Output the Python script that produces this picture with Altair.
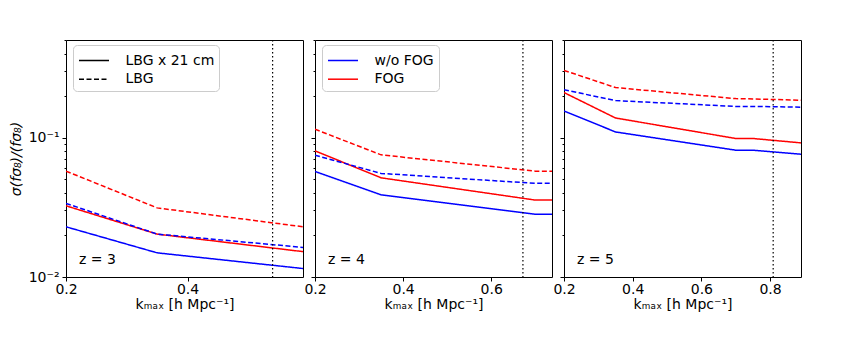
import altair as alt
import pandas as pd

# ---- data ----
redshifts = [3, 4, 5]
kmax = {
    3: [0.2, 0.35, 0.59],
    4: [0.2, 0.35, 0.7, 0.738],
    5: [0.2, 0.35, 0.7, 0.75, 0.89],
}
cross_nofog = {3: [0.0229, 0.0149, 0.0115],
               4: [0.0571, 0.0388, 0.0282, 0.0282],
               5: [0.155, 0.1096, 0.0811, 0.0811, 0.0759]}
cross_fog = {3: [0.0324, 0.0203, 0.0152],
             4: [0.0802, 0.0514, 0.0356, 0.0356],
             5: [0.210, 0.138, 0.0984, 0.0984, 0.0915]}
lbg_nofog = {3: [0.0337, 0.0203, 0.0163],
             4: [0.0747, 0.0553, 0.0469, 0.0469],
             5: [0.220, 0.184, 0.167, 0.167, 0.165]}
lbg_fog = {3: [0.0574, 0.0313, 0.0229],
           4: [0.1146, 0.0751, 0.0574, 0.0574],
           5: [0.303, 0.228, 0.190, 0.189, 0.185]}
kcut = {3: 0.54, 4: 0.672, 5: 0.809}
xmax = {3: 0.59, 4: 0.738, 5: 0.89}
xticks = {3: [0.2, 0.4], 4: [0.2, 0.4, 0.6], 5: [0.2, 0.4, 0.6, 0.8]}
yticks = [0.01, 0.02, 0.03, 0.04, 0.05, 0.06, 0.07, 0.08, 0.09,
          0.1, 0.2, 0.3, 0.4, 0.5]

models = ["w/o FOG", "FOG"]
surveys = ["LBG x 21 cm", "LBG"]
colors = ["#0000ff", "#ff0000"]
dashes = [[1, 0], [5, 2.5]]

FONT = "DejaVu Sans"


def frame(z):
    rows = []
    series = [
        ("w/o FOG", "LBG x 21 cm", cross_nofog[z]),
        ("FOG", "LBG x 21 cm", cross_fog[z]),
        ("w/o FOG", "LBG", lbg_nofog[z]),
        ("FOG", "LBG", lbg_fog[z]),
    ]
    for m, s, vals in series:
        for k, v in zip(kmax[z], vals):
            rows.append({"k": k, "sigma": v, "model": m, "survey": s})
    return pd.DataFrame(rows)


def legend(extra=None):
    opts = dict(
        title=None, orient="none", legendX=7, legendY=5,
        fillColor="white", strokeColor="#cccccc", cornerRadius=4,
        padding=4.5, rowPadding=0.7,
        labelFontSize=14, labelFont=FONT, labelColor="black",
        symbolType="M-1.5,0L1.5,0", symbolSize=400, symbolOffset=5.5,
        symbolStrokeWidth=1.5, symbolFillColor="transparent",
        labelOffset=20.5,
    )
    if extra:
        opts.update(extra)
    return alt.Legend(**opts)


def panel(i, z):
    df = frame(z)
    first = i == 0
    yaxis = alt.Axis(
        values=yticks,
        labels=first,
        title="σ(fσ₈)/(fσ₈)" if first else None,
        titleFontStyle="italic",
        labelExpr="datum.value == 0.1 ? '10⁻¹' : (datum.value == 0.01 ? '10⁻²' : '')",
        tickSize={"condition": {"test": "datum.value == 0.1 || datum.value == 0.01",
                                "value": 4}, "value": 2},
        labelPadding=3, titlePadding=5, grid=False, domain=False,
    )
    xaxis = alt.Axis(values=xticks[z], format=".1f", title="kₘₐₓ [h Mpc⁻¹]",
                     labelFlush=False, labelBound=False, labelOverlap=False,
                     tickSize=4, labelPadding=1, titlePadding=1,
                     grid=False, domain=False)
    dash_leg = legend({"symbolStrokeColor": "black"}) if i == 0 else None
    col_leg = legend() if i == 1 else None
    lines = alt.Chart(df).mark_line(strokeWidth=1.5, clip=True).encode(
        x=alt.X("k:Q", scale=alt.Scale(domain=[0.2, xmax[z]], nice=False, zero=False),
                axis=xaxis),
        y=alt.Y("sigma:Q", scale=alt.Scale(type="log", domain=[0.01, 0.5], nice=False),
                axis=yaxis),
        color=alt.Color("model:N", scale=alt.Scale(domain=models, range=colors),
                        legend=col_leg),
        strokeDash=alt.StrokeDash("survey:N", scale=alt.Scale(domain=surveys, range=dashes),
                                  legend=dash_leg),
    )
    rule = alt.Chart(pd.DataFrame({"k": [kcut[z]]})).mark_rule(
        color="black", strokeDash=[1.5, 2.5], strokeWidth=1.2
    ).encode(x="k:Q")
    txt = alt.Chart(pd.DataFrame({"t": [f"z = {z}"]})).mark_text(
        align="left", baseline="middle", fontSize=14, font=FONT, color="black"
    ).encode(text="t:N", x=alt.value(13), y=alt.value(220))
    return alt.layer(lines, rule, txt).properties(width=237, height=237)


chart = alt.hconcat(*[panel(i, z) for i, z in enumerate(redshifts)],
                    spacing=12, bounds="flush").resolve_scale(
    x="independent", y="independent", color="independent", strokeDash="independent"
).resolve_legend(color="independent", strokeDash="independent").properties(
    padding={"left": 0, "top": 30, "right": 5, "bottom": 5}
).configure_view(stroke="black", strokeWidth=1).configure_axis(
    labelFont=FONT, titleFont=FONT, labelFontSize=14, titleFontSize=14,
    labelColor="black", titleColor="black", titleFontWeight="normal",
    tickColor="black",
)

chart.save("out.html", embed_options={"renderer": "svg", "actions": False})
